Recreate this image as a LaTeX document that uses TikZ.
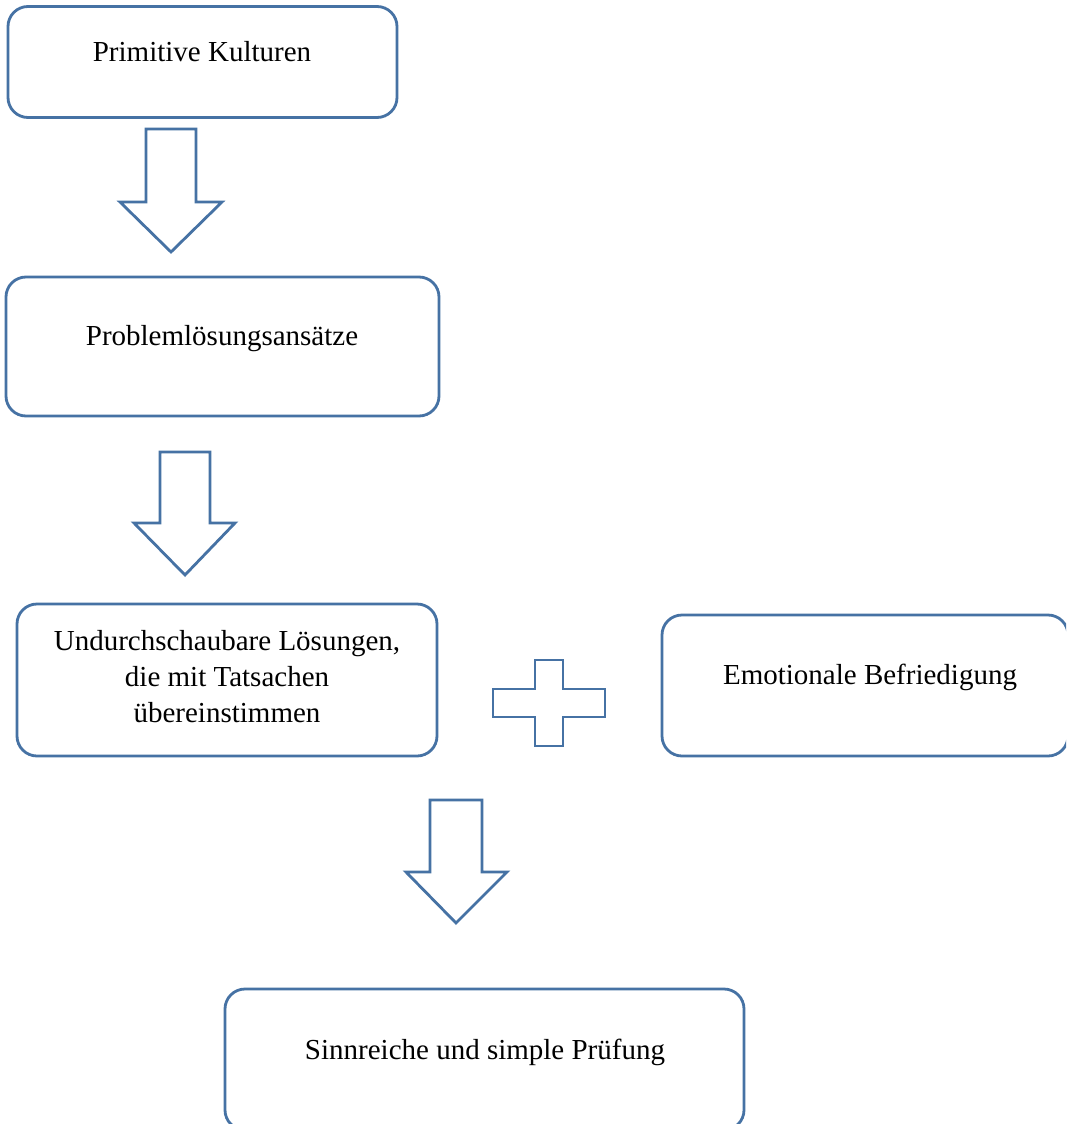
\documentclass[tikz,border=0pt]{standalone}
\usepackage{fontspec}
\setmainfont{Liberation Serif}
\definecolor{shapeblue}{RGB}{70,114,164}
\begin{document}
\begin{tikzpicture}[x=1pt,y=-1pt,
  box/.style={draw=shapeblue,line width=2.8pt,rounded corners=20pt,inner sep=0pt,fill=white},
  txt/.style={font=\fontsize{29}{36}\selectfont,inner sep=0pt,anchor=base,align=center},
  blockarrow/.style={draw=shapeblue,line width=2.8pt,line join=miter,fill=white}]
\clip (0,0) rectangle (1066,1124);
\fill[white] (0,0) rectangle (1066,1124);
% boxes
\node[box,minimum width=389pt,minimum height=111pt] (b1) at (202.5,62) {};
\node[box,minimum width=433pt,minimum height=139pt] (b2) at (222.5,346.5) {};
\node[box,minimum width=420pt,minimum height=152pt] (b3) at (227,680) {};
\node[box,minimum width=406pt,minimum height=141pt] (b4) at (865,685.5) {};
\node[box,minimum width=519pt,minimum height=141pt] (b5) at (484.5,1059.5) {};
% texts
\node[txt] (t1) at (202,62) {Primitive Kulturen};
\node[txt] (t2) at (222,345) {Problemlösungsansätze};
\node[txt] (t3) at (227,722) {Undurchschaubare Lösungen,\\die mit Tatsachen\\übereinstimmen};
\node[txt] (t4) at (870,684) {Emotionale Befriedigung};
\node[txt] (t5) at (485,1059) {Sinnreiche und simple Prüfung};
% block arrows
\draw[blockarrow] (146,129) -- (196,129) -- (196,202) -- (222,202) -- (171,252) -- (120,202) -- (146,202) -- cycle;
\draw[blockarrow] (160,452) -- (210,452) -- (210,523) -- (235,523) -- (185,575) -- (134,523) -- (160,523) -- cycle;
\draw[blockarrow] (430,800) -- (482,800) -- (482,872) -- (507,872) -- (456,923) -- (406,872) -- (430,872) -- cycle;
% plus
\draw[blockarrow] (535,660) -- (563,660) -- (563,689) -- (605,689) -- (605,717) -- (563,717) -- (563,746) -- (535,746) -- (535,717) -- (493,717) -- (493,689) -- (535,689) -- cycle;
\end{tikzpicture}
\end{document}
